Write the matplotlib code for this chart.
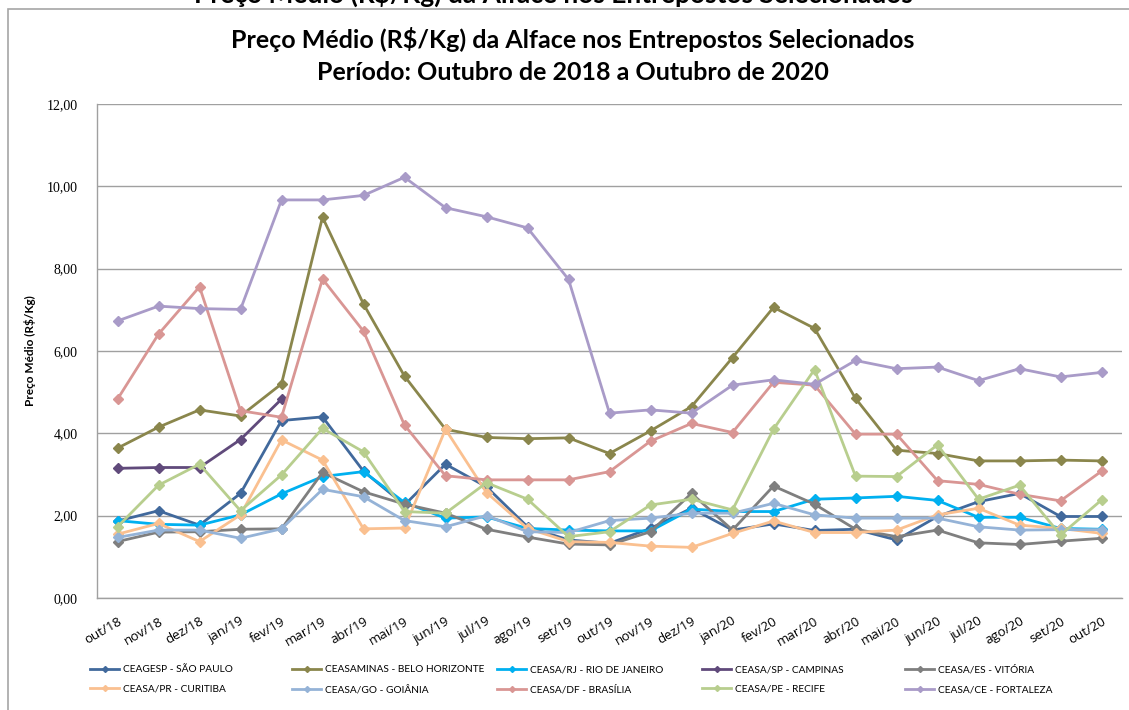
import numpy as np
import matplotlib
matplotlib.use("Agg")
from matplotlib import pyplot as plt
from matplotlib.patches import Rectangle
from matplotlib.ticker import FuncFormatter

# Months (out/18 .. out/20)
months = ['out/18', 'nov/18', 'dez/18', 'jan/19', 'fev/19', 'mar/19', 'abr/19', 'mai/19',
          'jun/19', 'jul/19', 'ago/19', 'set/19', 'out/19', 'nov/19', 'dez/19', 'jan/20',
          'fev/20', 'mar/20', 'abr/20', 'mai/20', 'jun/20', 'jul/20', 'ago/20', 'set/20', 'out/20']

# Average price (R$/Kg) per market
ceagesp_sp = [1.87, 2.12, 1.77, 2.54, 4.31, 4.40, 3.08, 2.26, 3.25, 2.70, 1.73, 1.41, 1.33,
              1.69, 2.18, 1.65, 1.80, 1.64, 1.67, 1.41, 1.98, 2.34, 2.54, 1.98, 1.98]
ceasaminas_bh = [3.64, 4.15, 4.57, 4.42, 5.20, 9.25, 7.14, 5.39, 4.10, 3.90, 3.87, 3.89, 3.51,
                 4.06, 4.65, 5.84, 7.06, 6.55, 4.85, 3.59, 3.51, 3.33, 3.33, 3.35, 3.33]
ceasa_rj = [1.88, 1.79, 1.77, 2.02, 2.53, 2.95, 3.07, 2.32, 1.94, 1.97, 1.69, 1.65, 1.63,
            1.63, 2.16, 2.10, 2.10, 2.40, 2.43, 2.47, 2.37, 1.96, 1.96, 1.69, 1.67]
ceasa_campinas = [3.15, 3.17, 3.17, 3.85, 4.83] + [np.nan] * 20
ceasa_es = [1.37, 1.60, 1.61, 1.67, 1.68, 3.05, 2.58, 2.28, 2.06, 1.67, 1.48, 1.31, 1.29,
            1.61, 2.54, 1.65, 2.72, 2.28, 1.67, 1.49, 1.65, 1.34, 1.30, 1.38, 1.45]
ceasa_pr = [1.55, 1.81, 1.37, 2.02, 3.84, 3.35, 1.68, 1.70, 4.10, 2.56, 1.69, 1.37, 1.35,
            1.26, 1.23, 1.57, 1.87, 1.59, 1.59, 1.65, 2.02, 2.18, 1.77, 1.69, 1.57]
ceasa_go = [1.47, 1.65, 1.65, 1.45, 1.68, 2.64, 2.46, 1.88, 1.73, 2.00, 1.61, 1.59, 1.88,
            1.94, 2.06, 2.06, 2.30, 2.02, 1.94, 1.94, 1.94, 1.73, 1.65, 1.66, 1.66]
ceasa_df = [4.83, 6.41, 7.56, 4.55, 4.39, 7.75, 6.48, 4.20, 2.97, 2.87, 2.87, 2.87, 3.07,
            3.81, 4.24, 4.02, 5.24, 5.17, 3.98, 3.98, 2.85, 2.76, 2.52, 2.36, 3.08]
ceasa_pe = [1.73, 2.74, 3.25, 2.12, 2.99, 4.12, 3.55, 2.10, 2.06, 2.80, 2.40, 1.49, 1.61,
            2.26, 2.40, 2.14, 4.10, 5.55, 2.96, 2.95, 3.72, 2.40, 2.74, 1.53, 2.38]
ceasa_ce = [6.73, 7.09, 7.03, 7.01, 9.67, 9.67, 9.78, 10.22, 9.48, 9.26, 8.99, 7.74, 4.49,
            4.57, 4.49, 5.17, 5.30, 5.19, 5.77, 5.57, 5.61, 5.28, 5.57, 5.37, 5.48]

series = [
    ('CEAGESP - SÃO PAULO', ceagesp_sp, '#41699C'),
    ('CEASAMINAS - BELO HORIZONTE', ceasaminas_bh, '#8A864C'),
    ('CEASA/RJ - RIO DE JANEIRO', ceasa_rj, '#00B0F0'),
    ('CEASA/SP - CAMPINAS', ceasa_campinas, '#604A7B'),
    ('CEASA/ES - VITÓRIA', ceasa_es, '#7F7F7F'),
    ('CEASA/PR - CURITIBA', ceasa_pr, '#FAC090'),
    ('CEASA/GO - GOIÂNIA', ceasa_go, '#95B3D7'),
    ('CEASA/DF - BRASÍLIA', ceasa_df, '#D99694'),
    ('CEASA/PE - RECIFE', ceasa_pe, '#B8CE8E'),
    ('CEASA/CE - FORTALEZA', ceasa_ce, '#A99BC8'),
]

W, H = 1129, 710
fig = plt.figure(figsize=(W / 100, H / 100), dpi=100)

# chart frame (cut off on the right and bottom, like the screenshot)
fig.patches.append(Rectangle((8 / W, -0.1), 1.2, 1 - 9 / H + 0.1, transform=fig.transFigure,
                             fill=False, edgecolor='#A6A6A6', lw=1.2))

# caption of the document, cut off at the very top
fig.text(0.49, 1 - 3 / H, 'Preço Médio (R$/Kg) da Alface nos Entrepostos Selecionados',
         ha='center', va='baseline', fontsize=19, fontweight='bold', family='Lato')

ax = fig.add_axes([97 / W, 1 - 598 / H, (1122 - 97) / W, (598 - 104) / H])

x = np.arange(len(months))
for name, vals, col in series:
    ax.plot(x, vals, color=col, lw=2.0, marker='D', markersize=5.5, label=name)

ax.set_xlim(-0.5, len(months) - 0.5)
ax.set_ylim(0, 12)
ax.set_yticks(np.arange(0, 12.01, 2))
ax.yaxis.set_major_formatter(FuncFormatter(lambda v, p: f'{v:.2f}'.replace('.', ',')))
ax.grid(axis='y', color='#A0A0A0', lw=1)
ax.set_axisbelow(True)
for s in ['top', 'right']:
    ax.spines[s].set_visible(False)
for s in ['left', 'bottom']:
    ax.spines[s].set_color('#A0A0A0')
    ax.spines[s].set_linewidth(1)

ax.set_xticks(x)
ax.set_xticklabels(months, rotation=30, ha='right', rotation_mode='anchor',
                   fontsize=9.5, family='Open Sans')
ax.tick_params(axis='x', length=0, pad=12)
ax.tick_params(axis='y', length=0, pad=14)
for lab in ax.get_yticklabels():
    lab.set_family('Liberation Serif')
    lab.set_fontsize(10)

fig.text(573 / W, 1 - 40 / H, 'Preço Médio (R$/Kg) da Alface nos Entrepostos Selecionados',
         ha='center', va='center', fontsize=18, fontweight='bold', family='Lato')
fig.text(573 / W, 1 - 72 / H, 'Período: Outubro de 2018 a Outubro de 2020',
         ha='center', va='center', fontsize=18, fontweight='bold', family='Lato')
fig.text(30 / W, 1 - 351 / H, 'Preço Médio (R$/Kg)', rotation=90, ha='center', va='center',
         fontsize=8.5, fontweight='bold', family='Lato')

# legend: 5 evenly spaced columns of 2 entries (row 1 = first five series)
handles, labels = ax.get_legend_handles_labels()
col_x = [90, 292, 497, 702, 905]
for c, xc in enumerate(col_x):
    fig.legend([handles[c], handles[c + 5]], [labels[c], labels[c + 5]],
               loc='upper left', bbox_to_anchor=(xc / W, 1 - 665 / H), frameon=False,
               prop={'family': 'Lato', 'size': 7.3}, borderpad=0, borderaxespad=0,
               handlelength=2.9, handletextpad=0.4, labelspacing=1.05, markerscale=0.55)

fig.savefig('out.png', dpi=100)
